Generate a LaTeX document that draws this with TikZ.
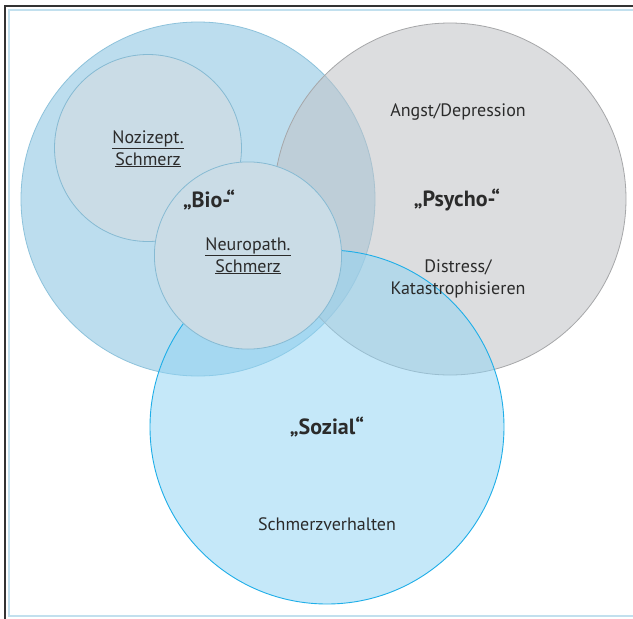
\documentclass[tikz,border=0pt]{standalone}
\usepackage{fontspec}
\setmainfont{PT Sans}
\begin{document}
\begin{tikzpicture}[x=1pt,y=-1pt,
  txt/.style={text=textc,font=\fontsize{18}{21.5}\selectfont,align=center,inner sep=0pt},
  bold/.style={txt,font=\fontsize{22}{24}\selectfont\bfseries}]
\definecolor{textc}{HTML}{2B2B2B}
\definecolor{bioF}{HTML}{BCDDEE}
\definecolor{bioD}{HTML}{8DC2DB}
\definecolor{psyF}{RGB}{192,194,198}
\definecolor{psyD}{HTML}{A6A7A9}
\definecolor{sozF}{RGB}{144,212,244}
\definecolor{sozD}{HTML}{1FAEE8}
\definecolor{subF}{HTML}{CADCE6}
\definecolor{subD}{HTML}{86BAD3}
\definecolor{frameD}{HTML}{333333}
\definecolor{frameL}{HTML}{C2E0EE}
\newcommand{\ul}[1]{\underline{#1}}
\useasboundingbox (0,0) rectangle (633,619);
\fill[white] (0,0) rectangle (633,619);
% frame
\draw[frameD,line width=1.3pt] (5,619) -- (5,6) -- (633,6);
\draw[frameL,line width=1.6pt] (633,10) -- (9,10) -- (9,616) -- (633,616);
% circles
\coordinate (bioC) at (198,199);
\coordinate (psyC) at (450,199);
\coordinate (sozC) at (327,427);
\draw[bioD,fill=bioF,line width=0.8pt] (bioC) circle[radius=177];
\draw[psyD,fill=psyF,fill opacity=0.55,line width=0.8pt] (psyC) circle[radius=176];
\draw[sozD,fill=sozF,fill opacity=0.52,line width=0.9pt] (sozC) circle[radius=177];
\draw[subD,fill=subF,line width=0.8pt] (148,148) circle[radius=93.5];
\draw[subD,fill=subF,line width=0.8pt] (248,255.5) circle[radius=93.6];
% texts
\node[txt] (nozi) at (148,149) {\ul{Nozizept.}\\\ul{Schmerz}};
\node[bold] (bio) at (209,200) {„Bio-“};
\node[txt] (neuro) at (248,256) {\ul{Neuropath.}\\\ul{Schmerz}};
\node[txt] (angst) at (458,112) {Angst/Depression};
\node[bold] (psycho) at (457,200) {„Psycho-“};
\node[txt] (distress) at (458,279) {Distress/\\Katastrophisieren};
\node[bold] (sozial) at (327,427) {„Sozial“};
\node[txt] (verh) at (327,524) {Schmerzverhalten};
\end{tikzpicture}
\end{document}
